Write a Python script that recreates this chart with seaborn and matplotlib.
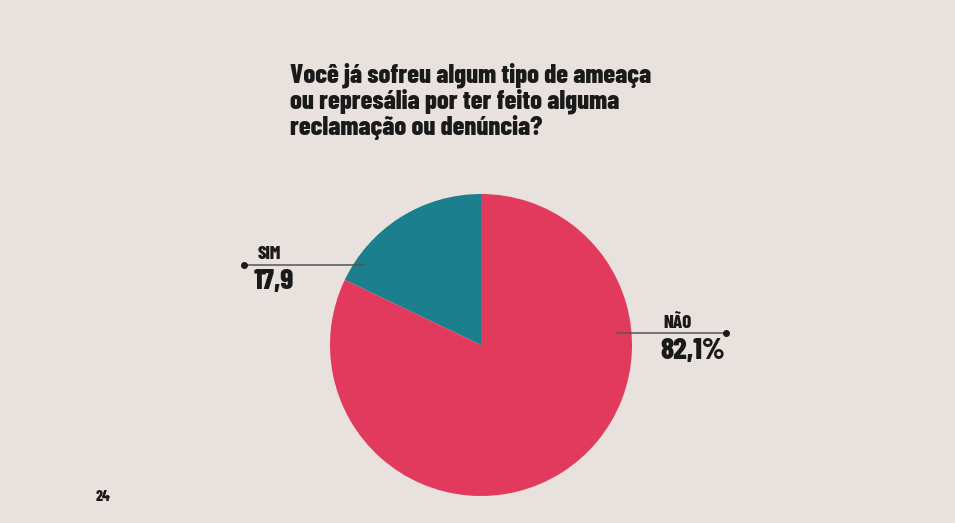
import matplotlib
matplotlib.use("Agg")
import matplotlib.pyplot as plt
import seaborn as sns

labels = ["SIM", "NÃO"]
values = [17.9, 82.1]
value_texts = ["17,9", "82,1%"]
colors = ["#1b7f8e", "#e23a5c"]
title = "Você já sofreu algum tipo de ameaça\nou represália por ter feito alguma\nreclamação ou denúncia?"
page = "24"

sns.set_theme(style="white")
bg = "#e9e1dd"
FONT = ["Barlow Condensed", "DejaVu Sans"]
plt.rcParams['font.family'] = FONT

W, H = 955, 523
fig = plt.figure(figsize=(W / 100, H / 100), dpi=100, facecolor=bg)
cx, cy, r = 481, 345, 151
ax = fig.add_axes([(cx - r) / W, (H - cy - r) / H, 2 * r / W, 2 * r / H])
ax.set_facecolor(bg)
ax.pie(values, colors=colors, startangle=90, counterclock=True,
       wedgeprops=dict(linewidth=0), radius=1)
ax.set_xlim(-1, 1)
ax.set_ylim(-1, 1)
ax.set_aspect("equal")
ax.axis("off")

def d(px, py):
    return (px - cx) / r, (cy - py) / r

ink = "#1a1a1a"
W8 = 800
# SIM label
x0, y0 = d(244, 265)
x1, _ = d(365, 265)
ax.plot([x0, x1], [y0, y0], color="#555555", lw=1.1, clip_on=False, zorder=5)
ax.plot([x0], [y0], "o", color=ink, ms=4, clip_on=False, zorder=6)
tx, ty = d(258, 254)
ax.text(tx, ty, labels[0], fontsize=13.5, fontweight=W8, color=ink, va="center", ha="left", clip_on=False)
tx, ty = d(254, 282)
ax.text(tx, ty, value_texts[0], fontsize=21, fontweight=W8, color=ink, va="center", ha="left", clip_on=False)

# NÃO label
x0, y0 = d(617, 333)
x1, _ = d(726, 333)
ax.plot([x0, x1], [y0, y0], color="#555555", lw=1.1, clip_on=False, zorder=5)
ax.plot([x1], [y0], "o", color=ink, ms=4, clip_on=False, zorder=6)
tx, ty = d(663, 322)
ax.text(tx, ty, labels[1], fontsize=13.5, fontweight=W8, color=ink, va="center", ha="left", clip_on=False)
tx, ty = d(660, 351)
ax.text(tx, ty, value_texts[1], fontsize=21.5, fontweight=W8, color=ink, va="center", ha="left", clip_on=False)

fig.text(290 / W, 1 - 62 / H, title, fontsize=19, fontweight=W8, color=ink,
         va="top", ha="left", linespacing=1.05)
fig.text(96 / W, 1 - 497 / H, page, fontsize=11, fontweight=W8, color=ink, va="center", ha="left")

fig.savefig("out.png", dpi=100, facecolor=bg)
